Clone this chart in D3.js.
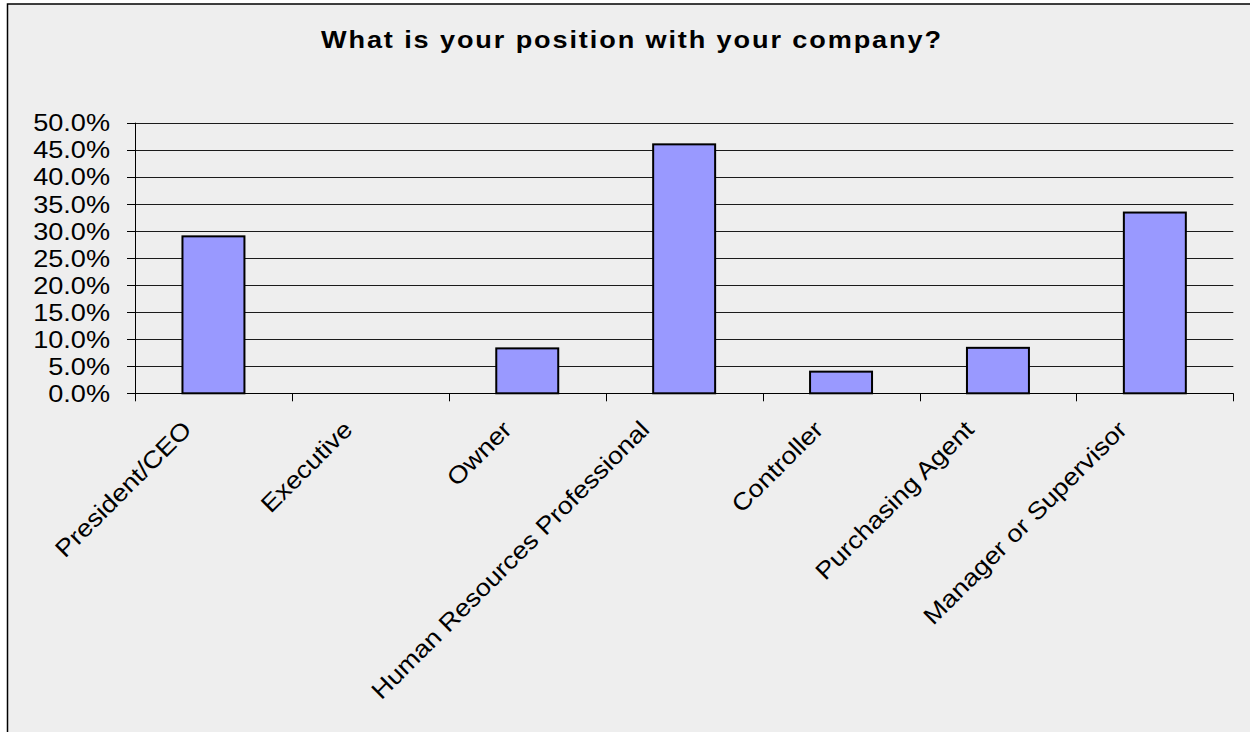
<!DOCTYPE html>
<html>
<head>
<meta charset="utf-8">
<script src="https://cdn.jsdelivr.net/npm/d3@7"></script>
<style>
  html, body { margin: 0; padding: 0; background: #ffffff; }
  svg { display: block; }
</style>
</head>
<body>
<svg id="chart" width="1250" height="732"></svg>
<script>
// Survey responses: share of respondents by job position
const categories = ["President/CEO", "Executive", "Owner", "Human Resources Professional",
                    "Controller", "Purchasing Agent", "Manager or Supervisor"];
const shares = [29.0, 0.0, 8.3, 46.0, 4.0, 8.4, 33.4];
const yTicks = [0, 5, 10, 15, 20, 25, 30, 35, 40, 45, 50];
const titleText = "What is your position with your company?";

const svg = d3.select("#chart");
const W = 1250, H = 732;
const plot = { left: 135, right: 1233.3, top: 122.7, bottom: 393.3 };
const FONT = "Liberation Sans, Arial, sans-serif";
const STRETCH = 1.13;   // wide sans rendering

// chart area background and frame
svg.append("rect")
  .attr("x", 7.5).attr("y", 4)
  .attr("width", W + 10).attr("height", H + 10)
  .attr("fill", "#eeeeee")
  .attr("stroke", "#000").attr("stroke-width", 1.5);

svg.append("text")
  .attr("transform", `translate(631,48) scale(${STRETCH},1)`)
  .attr("text-anchor", "middle")
  .attr("font-family", FONT)
  .attr("font-weight", "bold")
  .attr("font-size", 24)
  .attr("textLength", 620 / STRETCH)
  .attr("lengthAdjust", "spacing")
  .attr("fill", "#000")
  .text(titleText);

const x = d3.scaleBand().domain(categories).range([plot.left, plot.right]).paddingInner(0).paddingOuter(0);
const y = d3.scaleLinear().domain([0, 50]).range([plot.bottom, plot.top]);

// horizontal gridlines
svg.append("g").selectAll("line").data(yTicks).join("line")
  .attr("x1", plot.left).attr("x2", plot.right)
  .attr("y1", d => Math.round(y(d)) + 0.5).attr("y2", d => Math.round(y(d)) + 0.5)
  .attr("stroke", "#1a1a1a").attr("stroke-width", 1.2);

// y axis: line, ticks, percentage labels
const gy = svg.append("g");
gy.append("line")
  .attr("x1", plot.left + 0.5).attr("x2", plot.left + 0.5)
  .attr("y1", plot.top).attr("y2", plot.bottom + 8)
  .attr("stroke", "#000");
gy.selectAll("line.tk").data(yTicks).join("line").attr("class", "tk")
  .attr("x1", plot.left - 8).attr("x2", plot.left)
  .attr("y1", d => Math.round(y(d)) + 0.5).attr("y2", d => Math.round(y(d)) + 0.5)
  .attr("stroke", "#000");
gy.selectAll("text").data(yTicks).join("text")
  .attr("transform", d => `translate(110,${y(d)}) scale(${STRETCH},1)`)
  .attr("dy", "0.36em")
  .attr("text-anchor", "end")
  .attr("font-family", FONT)
  .attr("font-size", 24)
  .attr("fill", "#000")
  .text(d => d.toFixed(1) + "%");

// bars (zero-valued categories draw nothing)
const barW = x.bandwidth() * 0.395;
const barData = categories.map((c, i) => ({ c, v: shares[i] })).filter(d => d.v > 0);
svg.append("g").selectAll("rect").data(barData).join("rect")
  .attr("x", d => x(d.c) + (x.bandwidth() - barW) / 2)
  .attr("y", d => y(d.v))
  .attr("width", barW)
  .attr("height", d => y(0) - y(d.v))
  .attr("fill", "#9999ff")
  .attr("stroke", "#000").attr("stroke-width", 2);

// x axis: ticks at category boundaries
const gx = svg.append("g");
gx.append("line").attr("x1", plot.left).attr("x2", plot.right)
  .attr("y1", Math.round(y(0)) + 0.5).attr("y2", Math.round(y(0)) + 0.5)
  .attr("stroke", "#000").attr("stroke-width", 1.2);
const bounds = categories.map(c => x(c) + x.bandwidth());
gx.selectAll("line.tk").data(bounds).join("line").attr("class", "tk")
  .attr("x1", d => Math.round(d) + 0.5).attr("x2", d => Math.round(d) + 0.5)
  .attr("y1", plot.bottom).attr("y2", plot.bottom + 8)
  .attr("stroke", "#000");

// rotated category labels; longer labels sit a little further left
const labels = gx.selectAll("text").data(categories).join("text")
  .attr("text-anchor", "end")
  .attr("font-family", FONT)
  .attr("font-size", 24)
  .attr("fill", "#000")
  .text(d => d);
labels.each(function (d) {
  const len = this.getComputedTextLength() * STRETCH * Math.SQRT1_2;
  const ax = x(d) + x.bandwidth() / 2 - 9 - 0.09 * len;
  d3.select(this).attr("transform", `translate(${ax},431) rotate(-45) scale(${STRETCH},1)`);
});
</script>
</body>
</html>
